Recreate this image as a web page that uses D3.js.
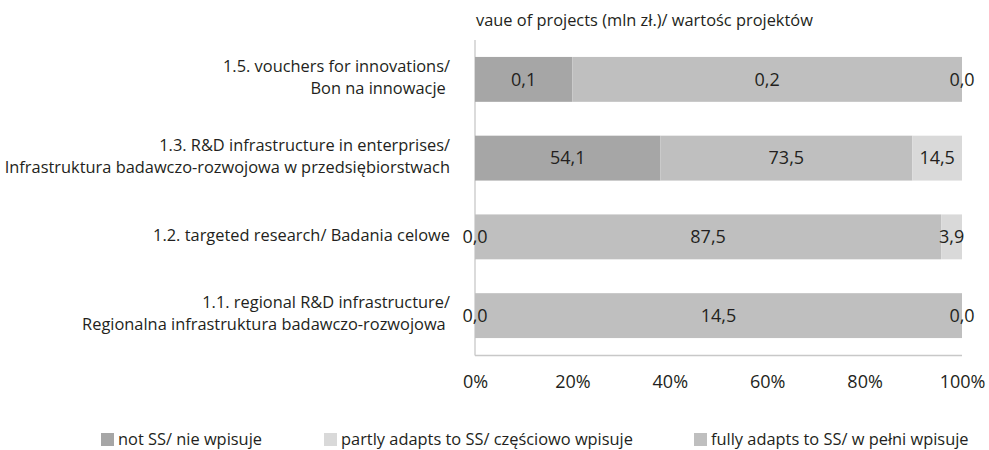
<!DOCTYPE html>
<html><head><meta charset="utf-8">
<script src="https://cdn.jsdelivr.net/npm/d3@7"></script>
<style>body{margin:0;background:#fff}svg{display:block}text{font-family:"Open Sans",sans-serif;fill:#231f20}</style>
</head><body><svg id="c" width="989" height="450"></svg>
<script>
const categories = [
  ["1.5. vouchers for innovations/", "Bon na innowacje "],
  ["1.3. R&D infrastructure in enterprises/", "Infrastruktura badawczo-rozwojowa w przedsiębiorstwach"],
  ["1.2. targeted research/ Badania celowe"],
  ["1.1. regional R&D infrastructure/", "Regionalna infrastruktura badawczo-rozwojowa "]
];
const seriesNames = ["not SS/ nie wpisuje", "fully adapts to SS/ w pełni wpisuje", "partly adapts to SS/ częściowo wpisuje"];
const notSS   = [0.06, 54.1, 0.0, 0.0];
const fully   = [0.24, 73.5, 87.5, 14.5];
const partly  = [0.0, 14.5, 3.9, 0.0];
const colors = ["#a6a6a6", "#bfbfbf", "#d9d9d9"];
const legendOrder = [0, 2, 1];
const tickValues = [0, 0.2, 0.4, 0.6, 0.8, 1.0];
const title = "vaue of projects (mln zł.)/ wartośc projektów";

const svg = d3.select("#c");
const x = d3.scaleLinear().domain([0, 1]).range([475, 962]);
const y = d3.scaleBand().domain(d3.range(categories.length)).range([40, 355]).paddingInner(0.43).paddingOuter(0.215);

const series = [notSS, fully, partly];
const fmt = v => d3.format(".1f")(v).replace(".", ",");

// axis lines
svg.append("line").attr("x1", x(0)).attr("x2", x(0)).attr("y1", 40).attr("y2", 355.5).attr("stroke", "#c8c8c8").attr("stroke-width", 1.3);
svg.append("line").attr("x1", x(0)).attr("x2", x(1)).attr("y1", 355.5).attr("y2", 355.5).attr("stroke", "#c8c8c8").attr("stroke-width", 1.3);

const labels = [];
categories.forEach((cat, i) => {
  const total = series.reduce((s, a) => s + a[i], 0);
  let cum = 0;
  series.forEach((arr, k) => {
    const v = arr[i];
    const x0 = x(cum / total), x1 = x((cum + v) / total);
    svg.append("rect").attr("x", x0).attr("y", y(i)).attr("width", x1 - x0).attr("height", y.bandwidth()).attr("fill", colors[k]);
    labels.push({x: (x0 + x1) / 2, y: y(i) + y.bandwidth() / 2, t: fmt(v)});
    cum += v;
  });
  const cy = y(i) + y.bandwidth() / 2;
  const lh = 22;
  cat.forEach((line, j) => {
    svg.append("text").attr("x", 450).attr("y", cy + (j - (cat.length - 1) / 2) * lh - 2).attr("dy", "0.35em")
      .attr("text-anchor", "end").style("font-size", "16.4px").style("white-space", "pre").text(line);
  });
});
labels.forEach(l => {
  svg.append("text").attr("x", l.x).attr("y", l.y).attr("dy", "0.35em")
    .attr("text-anchor", "middle").style("font-size", "18px").text(l.t);
});

// x axis tick labels
const ax = svg.append("g").attr("transform", "translate(0,375)")
  .call(d3.axisBottom(x).tickValues(tickValues).tickFormat(d3.format(".0%")).tickSize(0).tickPadding(0));
ax.select(".domain").remove();
ax.selectAll("text").style("font-size", "18px").attr("fill", "#231f20").style("font-family", "'Open Sans',sans-serif");

svg.append("text").attr("x", 476).attr("y", 20).attr("dy", "0.35em").style("font-size", "16.4px").text(title);

// legend
const legX = [101, 324, 694];
legendOrder.forEach((k, j) => {
  const g = svg.append("g").attr("transform", `translate(${legX[j]},439)`);
  g.append("rect").attr("x", 0).attr("y", -6).attr("width", 13).attr("height", 13).attr("fill", colors[k]);
  g.append("text").attr("x", 17).attr("dy", "0.35em").style("font-size", "16.4px").text(seriesNames[k]);
});
</script></body></html>
